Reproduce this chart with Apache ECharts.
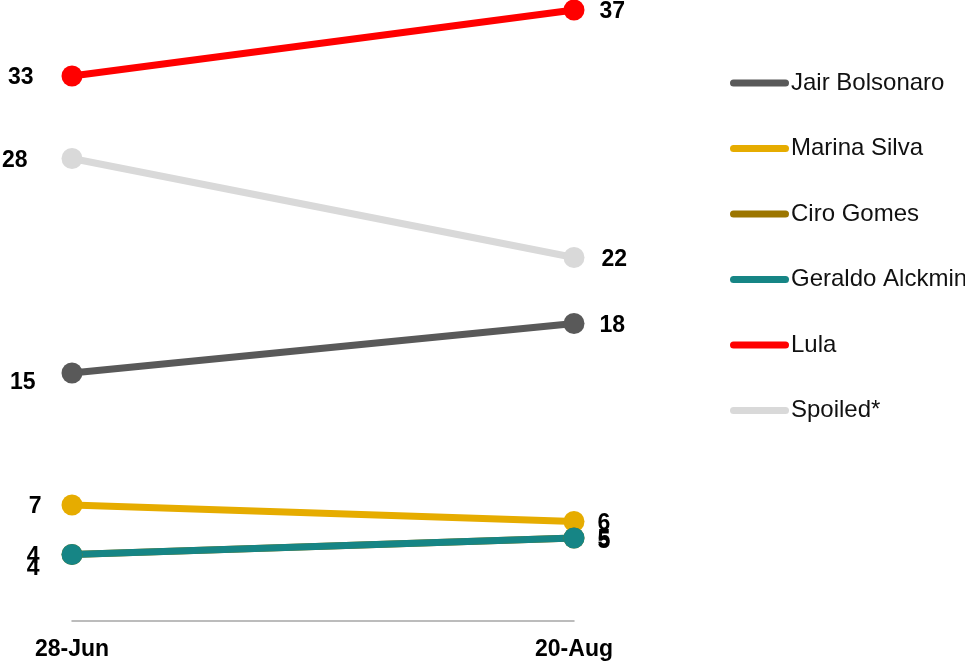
<!DOCTYPE html>
<html>
<head>
<meta charset="utf-8">
<script src="https://cdn.jsdelivr.net/npm/echarts@6/dist/echarts.min.js"></script>
<style>html,body{margin:0;padding:0;background:#fff}#c{width:965px;height:669px}</style>
</head>
<body>
<div id="c"></div>
<script>
var categories = ['28-Jun', '20-Aug'];
var seriesNames = ['Jair Bolsonaro', 'Marina Silva', 'Ciro Gomes', 'Geraldo Alckmin', 'Lula', 'Spoiled*'];
var bolsonaro = [15, 18];
var marina = [7, 6];
var ciro = [4, 5];
var alckmin = [4, 5];
var lula = [33, 37];
var spoiled = [28, 22];

var values = [bolsonaro, marina, ciro, alckmin, lula, spoiled];
var colors = ['#595959', '#E6AC00', '#9C7600', '#168585', '#FF0000', '#D9D9D9'];
// label tweaks per series: [dx, dy] for the left and right labels
var leftTweak = [[2, 10], [8, 2], [6, 14], [6, 2], [0, 2], [-6, 2]];
var rightTweak = [[0, 2], [-2, 2], [-2, 4], [-2, 2], [0, 2], [2, 2]];

var labelFont = {fontFamily: 'Liberation Sans, Arial, sans-serif', fontWeight: 'bold', fontSize: 23, color: '#000'};

var series = seriesNames.map(function (name, i) {
  return {
    name: name,
    type: 'line',
    data: values[i].map(function (v, j) {
      var t = j === 0 ? leftTweak[i] : rightTweak[i];
      return {
        value: v,
        label: Object.assign({
          show: true,
          position: j === 0 ? 'left' : 'right',
          distance: j === 0 ? 28 : 15,
          offset: t,
          formatter: '{c}'
        }, labelFont)
      };
    }),
    symbol: 'circle',
    symbolSize: 21,
    lineStyle: {width: 7, color: colors[i]},
    itemStyle: {color: colors[i]},
    z: i === 5 ? 1 : 2,
    animation: false
  };
});

var chart = echarts.init(document.getElementById('c'), null, {renderer: 'canvas'});
chart.setOption({
  animation: false,
  grid: {left: 72, right: 391, top: 10, bottom: 48.5, containLabel: false},
  xAxis: {
    type: 'category',
    data: categories,
    boundaryGap: false,
    axisLine: {lineStyle: {color: '#A6A6A6', width: 1.5}},
    axisTick: {show: false},
    axisLabel: Object.assign({margin: 18, interval: 0}, labelFont),
    splitLine: {show: false}
  },
  yAxis: {
    type: 'value',
    min: 0,
    max: 37,
    show: false,
    splitLine: {show: false}
  },
  legend: {
    orient: 'vertical',
    left: 730,
    top: 71,
    padding: 0,
    itemWidth: 59,
    itemHeight: 7,
    itemGap: 41.5,
    icon: 'path://M3.5,0 L55.5,0 A3.5,3.5 0 0 1 55.5,7 L3.5,7 A3.5,3.5 0 0 1 3.5,0 Z',
    textStyle: {fontFamily: 'Liberation Sans, Arial, sans-serif', fontSize: 24, color: '#111', lineHeight: 24, padding: [0, 0, 0, -3]},
    data: seriesNames
  },
  series: series
});
</script>
</body>
</html>
